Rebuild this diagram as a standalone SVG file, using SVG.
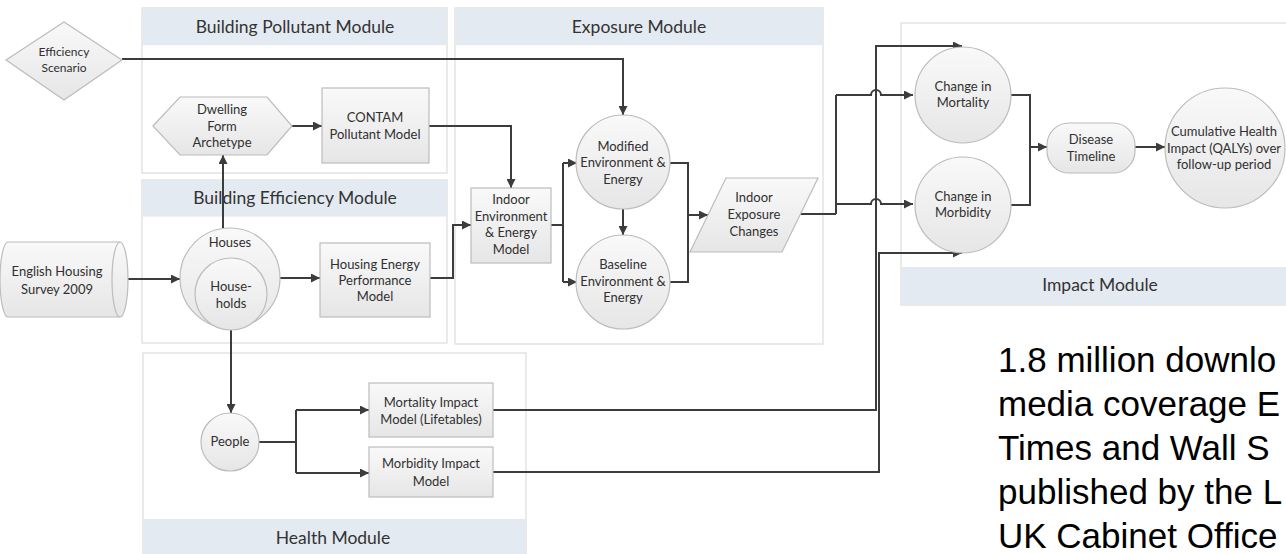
<svg xmlns="http://www.w3.org/2000/svg" width="1286" height="554" viewBox="0 0 1286 554">
<defs>
<linearGradient id="ng" x1="0" y1="0" x2="0" y2="1">
<stop offset="0" stop-color="#f9f9f9"/>
<stop offset="1" stop-color="#e6e6e6"/>
</linearGradient>
<marker id="ah" viewBox="0 0 10 10" refX="10" refY="5" markerWidth="11" markerHeight="9" markerUnits="userSpaceOnUse" orient="auto">
<path d="M0,0 L10,5 L0,10 z" fill="#3c3c3c"/>
</marker>
<style>
.panel{fill:#ffffff;stroke:#dcdcdc;stroke-width:1.2}
.hdr{fill:#e3eaf1;stroke:none}
.ht{font-family:Lato,"Open Sans",sans-serif;font-size:17.5px;fill:#333;text-anchor:middle}
.nd{fill:url(#ng);stroke:#bcbcbc;stroke-width:1.2}
.t{font-family:Lato,"Open Sans",sans-serif;font-size:13px;fill:#303030;text-anchor:middle}
.ts{font-family:Lato,"Open Sans",sans-serif;font-size:12px;fill:#303030;text-anchor:middle}
.c{fill:none;stroke:#3c3c3c;stroke-width:2}
.a{marker-end:url(#ah)}
.big{font-family:"Liberation Sans",Arial,sans-serif;font-size:35px;fill:#000}
</style>
</defs>
<rect width="1286" height="554" fill="#ffffff"/>

<g id="panel-pollutant">
<rect class="panel" x="142" y="8" width="305" height="165"/>
<rect class="hdr" x="142.6" y="8.6" width="303.8" height="36.5"/>
<text class="ht" x="295" y="33">Building Pollutant Module</text>
</g>
<g id="panel-efficiency">
<rect class="panel" x="142" y="180" width="305" height="163"/>
<rect class="hdr" x="142.6" y="180.6" width="303.8" height="36"/>
<text class="ht" x="295" y="204">Building Efficiency Module</text>
</g>
<g id="panel-exposure">
<rect class="panel" x="455" y="8" width="368" height="336"/>
<rect class="hdr" x="455.6" y="8.6" width="366.8" height="36.5"/>
<text class="ht" x="639" y="33">Exposure Module</text>
</g>
<g id="panel-impact">
<rect class="panel" x="901" y="23" width="400" height="282"/>
<rect class="hdr" x="901.6" y="267" width="398" height="37.4"/>
<text class="ht" x="1100" y="291">Impact Module</text>
</g>
<g id="panel-health">
<rect class="panel" x="143" y="353" width="383" height="215"/>
<rect class="hdr" x="143.6" y="519" width="381.8" height="48"/>
<text class="ht" x="333" y="544">Health Module</text>
</g>

<g id="connectors">
<path class="c a" d="M122,59 H623 V115"/>
<path class="c a" d="M223,228 V155"/>
<path class="c a" d="M292,126 H322"/>
<path class="c a" d="M429,126 H511 V188"/>
<path class="c a" d="M126,279 H180"/>
<path class="c a" d="M280,278 H320"/>
<path class="c a" d="M430,278 H453 V225 H471"/>
<path class="c" d="M551,225 H563 M563,163 V282"/>
<path class="c a" d="M563,163 H577"/>
<path class="c a" d="M563,282 H577"/>
<path class="c a" d="M623,209 V235"/>
<path class="c" d="M670,163 H688 V282 H670"/>
<path class="c a" d="M688,215 H708"/>
<path class="c" d="M798,214 H836 M836,95 V214"/>
<path class="c a" d="M493,410 H876 V46 H962"/>
<path class="c a" d="M493,472 H879 V253 H962"/>
<path class="c a" d="M836,95 H871 A5,5 0 0 1 881,95 H913"/>
<path class="c a" d="M836,204 H871 A5,5 0 0 1 881,204 H913"/>
<path class="c" d="M1011,95 H1030 V205 H1011"/>
<path class="c a" d="M1030,147 H1047"/>
<path class="c a" d="M1135,147 H1165"/>
<path class="c a" d="M231,330 V413"/>
<path class="c" d="M259,442 H296 M296,410 V473"/>
<path class="c a" d="M296,410 H369"/>
<path class="c a" d="M296,473 H369"/>
</g>

<g id="efficiency-scenario">
<polygon class="nd" points="6,60 64,22 122,60 64,100"/>
<text class="ts" x="64" y="56">Efficiency</text>
<text class="ts" x="64" y="72">Scenario</text>
</g>
<g id="dwelling-form-archetype">
<polygon class="nd" points="153,126 180,97 267,97 292,126 267,155 180,155"/>
<text class="t" x="222" y="114">Dwelling</text>
<text class="t" x="222" y="131">Form</text>
<text class="t" x="222" y="147">Archetype</text>
</g>
<g id="contam-pollutant-model">
<rect class="nd" x="322" y="88" width="107" height="75"/>
<text class="t" x="375" y="122">CONTAM</text>
<text class="t" x="375" y="139">Pollutant Model</text>
</g>
<g id="english-housing-survey">
<path class="nd" d="M8,242 H120 A8,37.5 0 0 1 120,317 H8 A8,37.5 0 0 1 8,242 Z"/>
<path fill="none" stroke="#bcbcbc" stroke-width="1.2" d="M120,242 A8,37.5 0 0 0 120,317"/>
<text class="t" x="57" y="276">English Housing</text>
<text class="t" x="57" y="294">Survey 2009</text>
</g>
<g id="houses">
<circle class="nd" cx="230" cy="278" r="50"/>
<text class="t" x="230" y="247">Houses</text>
</g>
<g id="households">
<circle class="nd" cx="231" cy="294" r="36"/>
<text class="t" x="231" y="291">House-</text>
<text class="t" x="231" y="308">holds</text>
</g>
<g id="housing-energy-performance-model">
<rect class="nd" x="320" y="243" width="110" height="74"/>
<text class="t" x="375" y="269">Housing Energy</text>
<text class="t" x="375" y="285">Performance</text>
<text class="t" x="375" y="301">Model</text>
</g>
<g id="indoor-environment-energy-model">
<rect class="nd" x="471" y="188" width="80" height="75"/>
<text class="t" x="511" y="204">Indoor</text>
<text class="t" x="511" y="221">Environment</text>
<text class="t" x="511" y="237">&amp; Energy</text>
<text class="t" x="511" y="254">Model</text>
</g>
<g id="modified-environment-energy">
<circle class="nd" cx="623" cy="162" r="47"/>
<text class="t" x="623" y="151">Modified</text>
<text class="t" x="623" y="167">Environment &amp;</text>
<text class="t" x="623" y="184">Energy</text>
</g>
<g id="baseline-environment-energy">
<circle class="nd" cx="623" cy="282" r="47"/>
<text class="t" x="623" y="269">Baseline</text>
<text class="t" x="623" y="286">Environment &amp;</text>
<text class="t" x="623" y="302">Energy</text>
</g>
<g id="indoor-exposure-changes">
<polygon class="nd" points="726,178 818,178 782,252 690,252"/>
<text class="t" x="754" y="202">Indoor</text>
<text class="t" x="754" y="219">Exposure</text>
<text class="t" x="754" y="236">Changes</text>
</g>
<g id="change-in-mortality">
<circle class="nd" cx="963" cy="95" r="48"/>
<text class="t" x="963" y="91">Change in</text>
<text class="t" x="963" y="107">Mortality</text>
</g>
<g id="change-in-morbidity">
<circle class="nd" cx="963" cy="205" r="48"/>
<text class="t" x="963" y="201">Change in</text>
<text class="t" x="963" y="217">Morbidity</text>
</g>
<g id="disease-timeline">
<rect class="nd" x="1047" y="123" width="88" height="50" rx="22" ry="22"/>
<text class="t" x="1091" y="144">Disease</text>
<text class="t" x="1091" y="161">Timeline</text>
</g>
<g id="cumulative-health-impact">
<circle class="nd" cx="1225" cy="148" r="60"/>
<text class="t" x="1224" y="136">Cumulative Health</text>
<text class="t" x="1224" y="153">Impact (QALYs) over</text>
<text class="t" x="1224" y="169">follow-up period</text>
</g>
<g id="people">
<circle class="nd" cx="230" cy="442" r="29"/>
<text class="t" x="230" y="446">People</text>
</g>
<g id="mortality-impact-model">
<rect class="nd" x="369" y="383" width="124" height="54"/>
<text class="t" x="431" y="407">Mortality Impact</text>
<text class="t" x="431" y="424">Model (Lifetables)</text>
</g>
<g id="morbidity-impact-model">
<rect class="nd" x="369" y="447" width="124" height="50"/>
<text class="t" x="431" y="468">Morbidity Impact</text>
<text class="t" x="431" y="486">Model</text>
</g>

<g id="caption">
<text class="big" x="998" y="372">1.8 million downlo</text>
<text class="big" x="998" y="416">media coverage E</text>
<text class="big" x="998" y="460">Times and Wall S</text>
<text class="big" x="998" y="504">published by the L</text>
<text class="big" x="998" y="548">UK Cabinet Office</text>
</g>
</svg>
